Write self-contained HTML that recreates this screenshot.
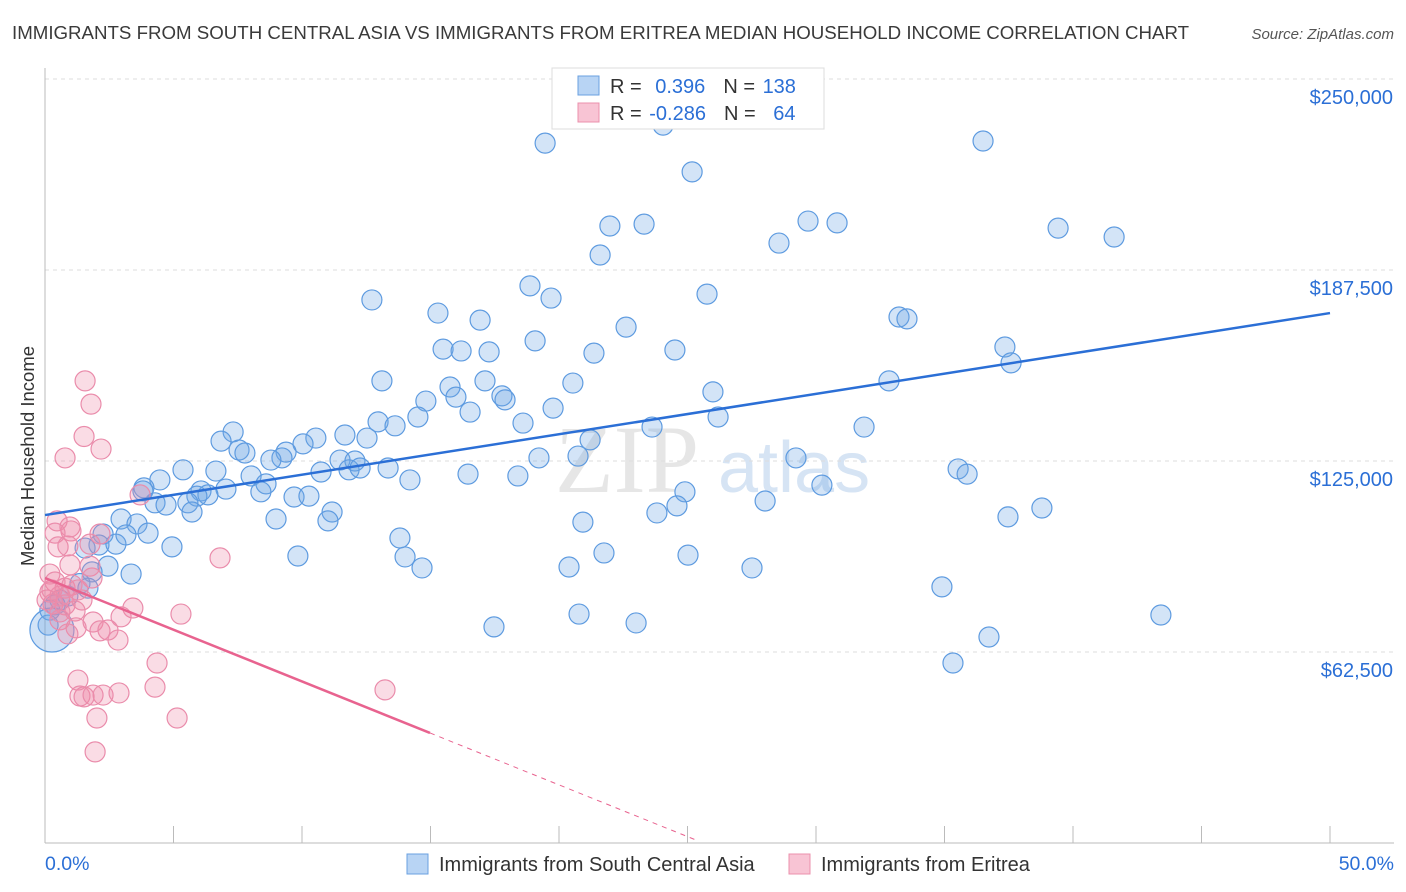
<!DOCTYPE html>
<html><head><meta charset="utf-8"><style>
body{margin:0;background:#fff;font-family:"Liberation Sans",sans-serif;}
svg{display:block}
</style></head><body>
<svg id="chart" width="1406" height="892">
<text x="12" y="39" font-size="18.7" fill="#3a3a3a">IMMIGRANTS FROM SOUTH CENTRAL ASIA VS IMMIGRANTS FROM ERITREA MEDIAN HOUSEHOLD INCOME CORRELATION CHART</text>
<text x="1394" y="39" font-size="15" fill="#555" font-style="italic" text-anchor="end">Source: ZipAtlas.com</text>
<text x="34" y="456" font-size="18.5" fill="#333" text-anchor="middle" transform="rotate(-90 34 456)">Median Household Income</text>
<text x="555" y="492" font-size="96" fill="#e6e6e6" font-family="Liberation Serif,serif">ZIP</text>
<text x="718" y="492" font-size="72" fill="#d6e4f4">atlas</text>
<g id="grid"></g><g id="pts"></g><g id="lines"></g>
<g>
<rect x="552" y="68" width="272" height="61" fill="#fff" stroke="#ddd"/>
<rect x="578" y="76" width="21" height="19" fill="#b8d4f4" stroke="#6aa0e0"/>
<rect x="578" y="103" width="21" height="19" fill="#f8c4d4" stroke="#eb90ac"/>
<text x="610" y="93" font-size="20" fill="#333">R = <tspan fill="#2b6fd6" dx="8">0.396</tspan><tspan dx="18">N = </tspan><tspan fill="#2b6fd6" dx="2">138</tspan></text>
<text x="610" y="120" font-size="20" fill="#333">R = <tspan fill="#2b6fd6" dx="2">-0.286</tspan><tspan dx="18">N = </tspan><tspan fill="#2b6fd6" dx="12">64</tspan></text>
</g>
<g>
<rect x="407" y="854" width="21" height="20" fill="#b8d4f4" stroke="#6aa0e0"/>
<text x="439" y="871" font-size="20" fill="#333">Immigrants from South Central Asia</text>
<rect x="789" y="854" width="21" height="20" fill="#f8c4d4" stroke="#eb90ac"/>
<text x="821" y="871" font-size="20" fill="#333">Immigrants from Eritrea</text>
</g>
<text x="45" y="870" font-size="19.5" fill="#2b6fd6">0.0%</text>
<text x="1394" y="870" font-size="19.5" fill="#2b6fd6" text-anchor="end">50.0%</text>
</svg>
<script>
const yTicks=[250,187.5,125,62.5];
const yTickLabels=["$250,000","$187,500","$125,000","$62,500"];
const blueX=[19.46,24.05,25.18,36.5,21.98,23.31,29.69,30.82,28.56,39.42,41.6,21.6,18.87,19.69,25.76,12.72,15.29,16.93,22.61,33.23,33.54,19.07,15.49,16.19,17.28,21.36,24.51,37.35,37.59,13.11,17.12,20.54,32.84,15.76,15.99,14.82,17.78,17.9,25.99,19.77,16.54,14.51,18.6,26.19,12.96,13.62,23.62,31.87,7.32,6.85,10.54,11.67,12.53,10.04,7.55,7.78,9.38,9.22,8.79,19.22,20.74,21.21,29.22,11.48,12.06,5.37,6.65,11.83,12.26,13.35,10.74,16.46,18.4,35.53,35.88,4.47,3.85,6.07,7.04,8.02,8.6,30.23,24.9,6.34,5.91,8.4,9.69,10.27,3.81,4.28,4.71,5.56,5.72,23.81,24.59,28.02,14.2,11.17,11.01,8.99,2.96,3.58,4.01,2.26,20.93,37.47,38.79,2.1,2.76,3.15,4.94,9.84,13.81,14.01,21.75,25.02,1.56,2.45,1.83,3.35,14.67,20.39,27.51,34.9,1.36,1.67,0.89,0.58,0.39,0.19,0.12,20.78,23.0,17.47,43.42,36.73,35.33,0.27];
const blueY=[234.9,240.8,225.5,235.6,207.8,208.4,209.4,208.8,202.2,207.1,204.2,198.3,188.2,184.2,185.5,183.6,179.3,177.0,174.7,178.0,177.4,170.2,167.5,166.9,166.6,166.2,167.2,168.2,163.0,157.1,157.1,156.4,157.1,155.1,151.8,150.5,152.2,150.9,153.5,148.2,146.9,145.3,143.3,145.3,143.7,142.4,142.0,142.0,140.4,137.4,138.4,139.4,138.4,136.5,134.5,133.5,133.8,131.9,131.2,131.9,132.5,137.8,131.9,131.2,130.9,128.0,127.6,128.0,128.6,128.6,127.3,126.6,126.0,128.3,126.6,124.7,122.1,121.1,121.7,126.0,123.4,123.0,120.8,119.8,119.4,120.8,119.1,119.4,121.1,117.2,116.5,117.2,114.2,113.9,116.2,117.8,124.7,114.2,111.3,111.9,111.9,110.3,107.3,107.0,110.9,112.6,115.5,103.4,103.7,106.7,102.8,99.8,105.7,99.5,100.8,100.1,102.4,96.5,94.6,93.9,95.9,96.2,95.9,89.7,90.8,89.3,86.7,85.4,83.8,82.1,77.2,80.8,77.9,76.6,80.5,73.3,64.8,75.6];
const pinkX=[1.56,1.79,1.52,2.18,0.78,3.7,0.47,0.97,1.01,0.39,2.14,1.75,0.51,0.89,6.81,0.97,1.75,1.83,0.19,0.39,0.78,1.05,1.28,0.58,0.19,0.78,0.31,0.58,1.17,3.42,5.29,2.96,1.87,1.21,2.14,2.45,0.89,2.84,4.36,1.28,1.36,1.52,1.87,2.26,2.88,4.28,13.23,2.02,5.14,1.95,0.08,0.27,0.58,1.44];
const pinkY=[157.1,149.5,138.9,134.8,131.9,119.8,111.3,109.3,108.0,107.3,107.0,103.7,102.8,103.1,99.2,96.9,96.5,92.6,93.9,91.3,89.3,90.3,88.7,86.7,88.0,83.8,84.1,81.5,81.8,82.8,80.8,79.9,78.2,76.3,75.3,75.6,74.3,72.3,64.8,59.2,54.0,53.7,54.3,54.3,55.0,56.9,56.0,46.8,46.8,35.7,85.4,88.7,78.9,85.4];
const blueTrend=[113.2,179.3];
const pinkTrend=[92.6,41.9];
const pinkSolidEnd=14.98;
const pinkDashEnd=25.3;

const NS="http://www.w3.org/2000/svg";
const X=v=>45+v*25.7;
const Y=v=>97+(250-v)/62.5*191;
function mk(t,a,p){const e=document.createElementNS(NS,t);for(const k in a)e.setAttribute(k,a[k]);p.appendChild(e);return e;}
const grid=document.getElementById('grid');
yTicks.forEach((v,i)=>{
 const l=mk('line',{x1:45,x2:1394,y1:Y(v)-18,y2:Y(v)-18,stroke:'#ddd','stroke-dasharray':'4,4'},grid);
 
 
 const t=mk('text',{x:1393,y:Y(v)+7,'font-size':20,fill:'#2b6fd6','text-anchor':'end'},grid);
 t.textContent=yTickLabels[i];
 
 
});
const ax=mk('line',{x1:45,x2:1394,y1:843,y2:843,stroke:'#bbb'},grid);


const ay=mk('line',{x1:45,x2:45,y1:68,y2:843,stroke:'#bbb'},grid);


for(let i=0;i<=10;i++){
 const t=mk('line',{x1:X(i*5),x2:X(i*5),y1:826,y2:843,stroke:'#bbb'},grid);
 
 
}
const pts=document.getElementById('pts');
blueX.forEach((x,i)=>{
 const c=mk('circle',{cx:X(x),cy:Y(blueY[i]),r:i==blueX.length-1?22:10,fill:'rgba(110,165,230,0.3)',stroke:'#5e9be0','stroke-width':1.2},pts);
 
 
});
pinkX.forEach((x,i)=>{
 const c=mk('circle',{cx:X(x),cy:Y(pinkY[i]),r:10,fill:'rgba(240,140,170,0.3)',stroke:'#ea8cab','stroke-width':1.2},pts);
 
 
});
const lines=document.getElementById('lines');
const bl=mk('line',{x1:X(0),y1:Y(blueTrend[0]),x2:X(50),y2:Y(blueTrend[1]),stroke:'#2b6fd6','stroke-width':2.5},lines);


const slope=(pinkTrend[1]-pinkTrend[0])/pinkSolidEnd;
const pl=mk('line',{x1:X(0),y1:Y(pinkTrend[0]),x2:X(pinkSolidEnd),y2:Y(pinkTrend[1]),stroke:'#e8638f','stroke-width':2.5},lines);


const pd=mk('line',{x1:X(pinkSolidEnd),y1:Y(pinkTrend[1]),x2:X(pinkDashEnd),y2:Y(pinkTrend[0]+slope*pinkDashEnd),stroke:'#e8638f','stroke-width':1,'stroke-dasharray':'5,5'},lines);


</script>
</body></html>
